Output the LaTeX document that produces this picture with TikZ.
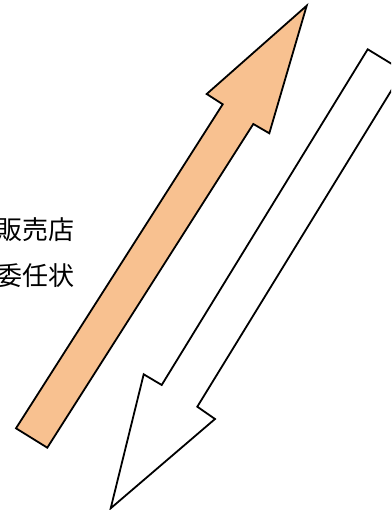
\documentclass[tikz,border=0pt]{standalone}
\usepackage{fontspec}
\newfontfamily\jpfont{Noto Sans CJK JP}
\usepackage{tikz}
\definecolor{arroworange}{RGB}{248,193,144}

\begin{document}
\begin{tikzpicture}[x=1pt,y=1pt]
  \tikzstyle{ArrowStyle}=[draw=black,line width=1.8pt,line join=miter]
  \tikzstyle{LabelStyle}=[font=\jpfont\fontsize{26}{46}\selectfont,align=right,inner sep=0pt]
  \clip (0,0) rectangle (391,510);
  % upward arrow
  \path[ArrowStyle,fill=arroworange] (16,81.7) -- (47.3,62.3) -- (253.3,386)
    -- (269.3,376.7) -- (306.7,504.3) -- (206.7,416) -- (222.7,405.7) -- cycle;
  % downward arrow
  \path[ArrowStyle,fill=white] (367.7,460.7) -- (403.3,439) -- (197.3,103.3)
    -- (215,91) -- (110.7,1.7) -- (143.7,135.7) -- (161.7,125) -- cycle;
  \node[LabelStyle,anchor=north east] (proxy) at (75,293) {販売店\\委任状};
\end{tikzpicture}
\end{document}
